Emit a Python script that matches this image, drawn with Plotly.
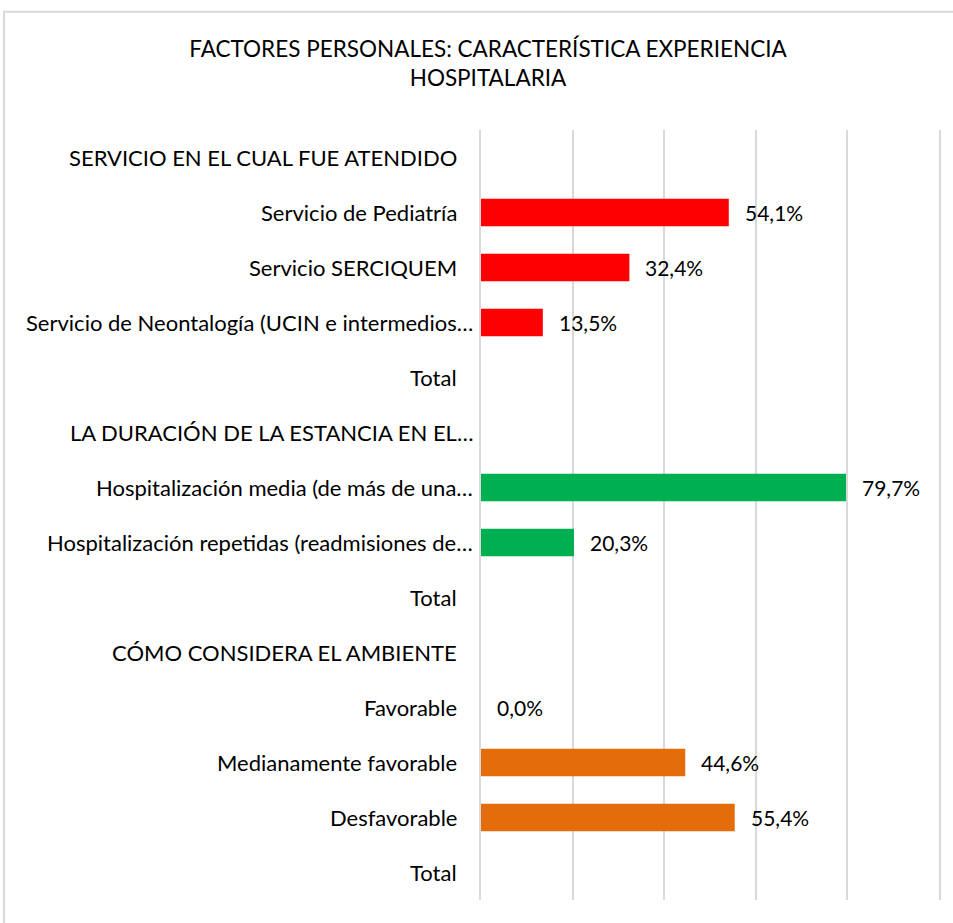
import plotly.graph_objects as go

categories = [
    "SERVICIO EN EL CUAL FUE ATENDIDO",
    "Servicio de Pediatría",
    "Servicio SERCIQUEM",
    "Servicio de Neontalogía (UCIN e intermedios…",
    "Total",
    "LA DURACIÓN DE LA ESTANCIA EN EL…",
    "Hospitalización media (de más de una…",
    "Hospitalización repetidas (readmisiones de…",
    "Total",
    "CÓMO CONSIDERA EL AMBIENTE",
    "Favorable",
    "Medianamente favorable",
    "Desfavorable",
    "Total",
]
values = [None, 54.1, 32.4, 13.5, None, None, 79.7, 20.3, None, None, 0.0, 44.6, 55.4, None]
value_labels = ["", "54,1%", "32,4%", "13,5%", "", "", "79,7%", "20,3%", "", "", "0,0%", "44,6%", "55,4%", ""]
truncated = [c.endswith("…") for c in categories]
groups = [None, "r", "r", "r", None, None, "g", "g", None, None, "o", "o", "o", None]
group_colors = {"r": "#FF0000", "g": "#00B050", "o": "#E46C0A"}

W, H = 953, 923
L, R, T, B = 481, 14, 129.5, 22.5

pos = list(range(len(categories)))
colors = [group_colors[g] if g else "rgba(0,0,0,0)" for g in groups]

fig = go.Figure()
fig.add_trace(go.Bar(
    y=pos, x=[v if v is not None else 0 for v in values], orientation="h",
    marker=dict(color=colors, line=dict(width=0)), width=0.5,
    hoverinfo="skip", showlegend=False,
))

FONT = "Lato, Calibri, Carlito, sans-serif"
annotations = []
for i, (c, v, lab, tr) in enumerate(zip(categories, values, value_labels, truncated)):
    annotations.append(dict(
        x=0, xref="paper", y=i, yref="y", text=c, showarrow=False,
        xanchor="right", yanchor="middle", xshift=-6 if tr else -22,
        font=dict(family=FONT, size=22, color="#000000"),
    ))
    if v is not None:
        annotations.append(dict(
            x=v, xref="x", y=i, yref="y", text=lab, showarrow=False,
            xanchor="left", yanchor="middle", xshift=14,
            font=dict(family=FONT, size=21, color="#000000"),
        ))

pw = W - L - R
ph = H - T - B
fig.add_shape(type="rect", xref="paper", yref="paper",
              x0=(4 - L) / pw, x1=(W + 20 - L) / pw,
              y0=-(H + 20 - T - ph) / ph, y1=1 + (T - 11) / ph,
              line=dict(color="#D9D9D9", width=2), fillcolor="rgba(0,0,0,0)", layer="below")

fig.update_layout(
    width=W, height=H,
    margin=dict(l=L, r=R, t=T, b=B, pad=0),
    paper_bgcolor="#FFFFFF", plot_bgcolor="#FFFFFF",
    title=dict(
        text="FACTORES PERSONALES: CARACTERÍSTICA EXPERIENCIA<br>HOSPITALARIA",
        x=488 / W, xanchor="center", xref="container",
        y=1 - 57 / H, yanchor="middle", yref="container",
        font=dict(family=FONT, size=22.5, color="#000000"),
    ),
    xaxis=dict(range=[0, 100], dtick=20, tick0=0, showgrid=True, gridcolor="#D9D9D9",
               gridwidth=2, showticklabels=False, zeroline=False, showline=False, ticks=""),
    yaxis=dict(range=[len(categories) - 0.5, -0.5], showgrid=False, zeroline=False,
               showticklabels=False, showline=True, mirror=True, linecolor="#D9D9D9",
               linewidth=2, ticks=""),
    annotations=annotations,
    bargap=0.5,
)

fig.write_html("out.html", config={"displayModeBar": False},
               post_script="document.body.style.margin='0px';")
